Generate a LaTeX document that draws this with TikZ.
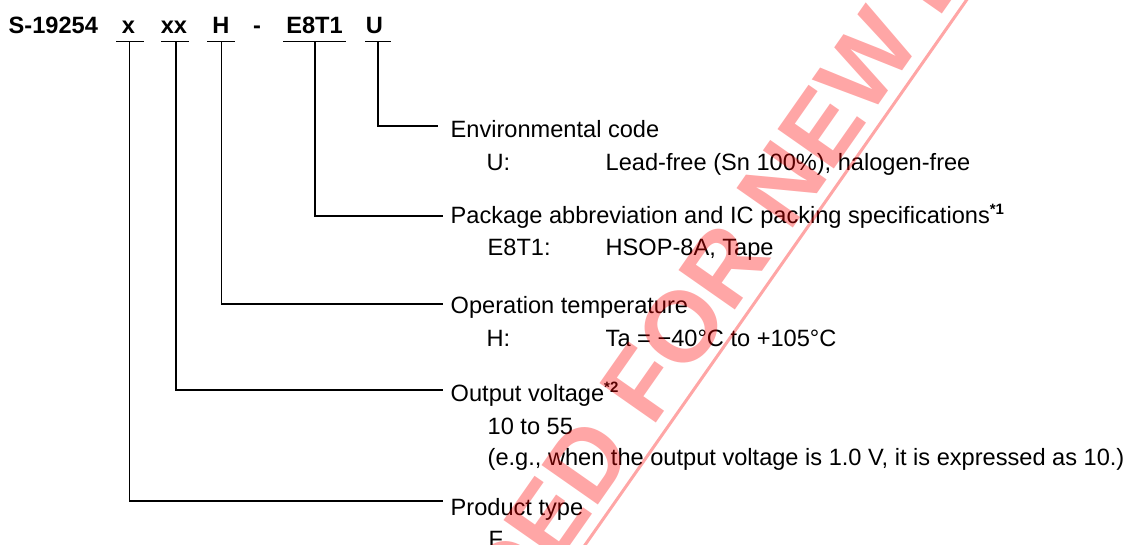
\documentclass[tikz,border=0pt]{standalone}
\usepackage{fontspec}
\setmainfont{Liberation Sans}
\begin{document}
\begin{tikzpicture}[x=1pt,y=-1pt,line width=1.4pt,
  code/.style={font=\fontsize{23.6}{28}\selectfont\bfseries,anchor=base,inner sep=0pt},
  lbl/.style={font=\fontsize{23.6}{28}\selectfont,anchor=base west,inner sep=0pt},
  wmark/.style={font=\fontsize{100}{100}\selectfont\bfseries,text=red,text opacity=0.35,rotate=55,anchor=base west,inner sep=0pt}]
\useasboundingbox (0,0) rectangle (1139,545);
\newcommand{\supmark}[1]{\raisebox{9pt}{\fontsize{15}{15}\selectfont\bfseries #1}}
% part number
\node[code,anchor=base west] (title) at (8,34) {S-19254};
\node[code] (cx) at (128.5,34) {x};
\node[code] (cxx) at (174,34) {xx};
\node[code] (cH) at (221,34) {H};
\node[code] (cdash) at (257,34) {-};
\node[code] (cpkg) at (314.5,34) {E8T1};
\node[code] (cU) at (374.5,34) {U};
% underline centres
\coordinate (ux) at (129.5,41.7);
\coordinate (uxx) at (176,41.7);
\coordinate (uH) at (221.5,41.7);
\coordinate (upkg) at (315,41.7);
\coordinate (uU) at (378,41.7);
\draw (116,41.7) -- (144,41.7);
\draw (161,41.7) -- (189,41.7);
\draw (207,41.7) -- (235,41.7);
\draw (283,41.7) -- (346,41.7);
\draw (365,41.7) -- (391,41.7);
% line ends
\coordinate (eU) at (438,126);
\coordinate (epkg) at (443,216);
\coordinate (eH) at (443,304);
\coordinate (exx) at (443,390);
\coordinate (ex) at (443,501);
\draw (uU) |- (eU);
\draw (upkg) |- (epkg);
\draw (uH) |- (eH);
\draw (uxx) |- (exx);
\draw (ux) |- (ex);
% labels
\node[lbl] (lU) at (450,138) {Environmental code};
\node[lbl] (lU1) at (486,170.5) {U:};
\node[lbl] (lU2) at (605,170.5) {Lead-free (Sn 100\%), halogen-free};
\node[lbl] (lpkg) at (450,223) {Package abbreviation and IC packing specifications\supmark{*1}};
\node[lbl] (lpkg1) at (487,255) {E8T1:};
\node[lbl] (lpkg2) at (605,255) {HSOP-8A, Tape};
\node[lbl] (lH) at (450,313) {Operation temperature};
\node[lbl] (lH1) at (486,346) {H:};
\node[lbl] (lH2) at (605,346) {Ta = −40°C to +105°C};
\node[lbl] (lxx) at (450,401.5) {Output voltage\supmark{*2}};
\node[lbl] (lxx1) at (487,434) {10 to 55};
\node[lbl] (lxx2) at (487,465) {(e.g., when the output voltage is 1.0 V, it is expressed as 10.)};
\node[lbl] (lx) at (450,515) {Product type};
\node[lbl] (lx1) at (488,547) {F};
% watermark
\begin{scope}
\clip (0,0) rectangle (1139,545);
\node[wmark] (wm) at (36.7,1307.7) {NOT RECOMMENDED FOR NEW DESIGN};
\draw[red,draw opacity=0.35,line width=3pt] (508,655) -- (1024,-82);
\end{scope}
\end{tikzpicture}
\end{document}
